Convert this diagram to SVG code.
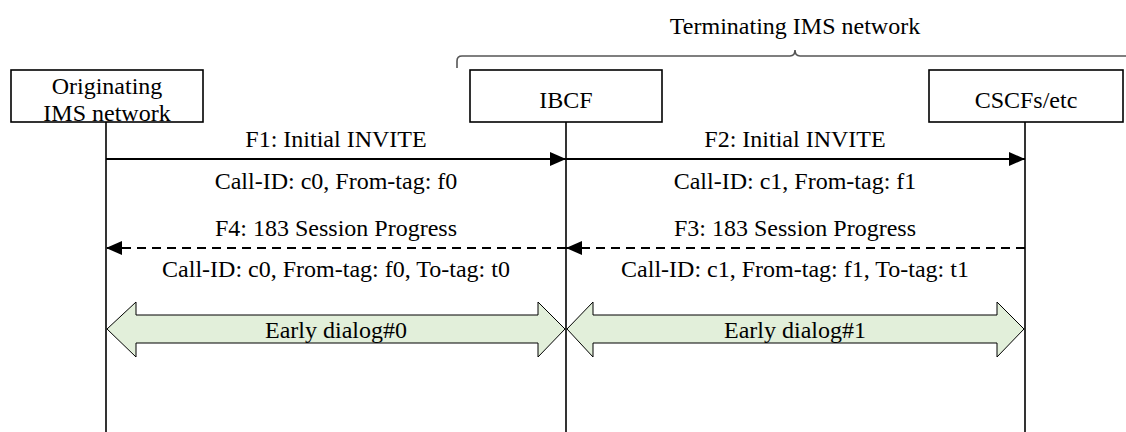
<svg xmlns="http://www.w3.org/2000/svg" width="1126" height="432" viewBox="0 0 1126 432">
<style>
text{font-family:"Liberation Serif","Times New Roman",serif;font-size:24px;fill:#000;text-anchor:middle}
.box{fill:#fff;stroke:#000;stroke-width:1.6}
.life{stroke:#000;stroke-width:1.6;fill:none}
.msg{stroke:#000;stroke-width:2.2;fill:none}
.dash{stroke-dasharray:9 6}
.dlg{fill:#e2efda;stroke:#000;stroke-width:1}
.brace{fill:none;stroke:#555;stroke-width:1.6}
</style>
<defs>
<marker id="ah" viewBox="0 0 16 14" refX="16" refY="7" markerWidth="16" markerHeight="14" markerUnits="userSpaceOnUse" orient="auto">
<path d="M0,0 L16,7 L0,14 Z" fill="#000"/>
</marker>
</defs>
<g id="brace-terminating">
<path class="brace" d="M457,68 L457,61 Q457,56 462,56 L790,56 Q795,56 795,50 Q795,56 800,56 L1130,56"/>
<text x="795" y="34">Terminating IMS network</text>
</g>
<g id="node-originating">
<rect class="box" x="11" y="70" width="192" height="52"/>
<text x="107" y="94">Originating</text>
<text x="107" y="121">IMS network</text>
<line class="life" x1="106" y1="122" x2="106" y2="432"/>
</g>
<g id="node-ibcf">
<rect class="box" x="470" y="70" width="192" height="52"/>
<text x="566" y="108">IBCF</text>
<line class="life" x1="566" y1="122" x2="566" y2="432"/>
</g>
<g id="node-cscfs">
<rect class="box" x="929" y="70" width="194" height="52"/>
<text x="1026" y="108">CSCFs/etc</text>
<line class="life" x1="1025" y1="122" x2="1025" y2="432"/>
</g>
<g id="connectors">
<g id="f1">
<line class="msg" x1="106" y1="159" x2="566" y2="159" marker-end="url(#ah)"/>
<text x="336" y="147">F1: Initial INVITE</text>
<text x="336" y="189">Call-ID: c0, From-tag: f0</text>
</g>
<g id="f2">
<line class="msg" x1="566" y1="159" x2="1025" y2="159" marker-end="url(#ah)"/>
<text x="795" y="147">F2: Initial INVITE</text>
<text x="795" y="189">Call-ID: c1, From-tag: f1</text>
</g>
<g id="f3">
<line class="msg dash" x1="1025" y1="248" x2="566" y2="248" marker-end="url(#ah)"/>
<text x="795" y="236">F3: 183 Session Progress</text>
<text x="795" y="277">Call-ID: c1, From-tag: f1, To-tag: t1</text>
</g>
<g id="f4">
<line class="msg dash" x1="566" y1="248" x2="106" y2="248" marker-end="url(#ah)"/>
<text x="336" y="236">F4: 183 Session Progress</text>
<text x="336" y="277">Call-ID: c0, From-tag: f0, To-tag: t0</text>
</g>
<g id="dialog0">
<path class="dlg" d="M107,329 L136,302 L136,315 L538,315 L538,302 L565,329 L538,357 L538,343 L136,343 L136,357 Z"/>
<text x="336" y="338">Early dialog#0</text>
</g>
<g id="dialog1">
<path class="dlg" d="M567,329 L593,302 L593,315 L997,315 L997,302 L1024,329 L997,357 L997,343 L593,343 L593,357 Z"/>
<text x="795" y="338">Early dialog#1</text>
</g>
</g>
</svg>
